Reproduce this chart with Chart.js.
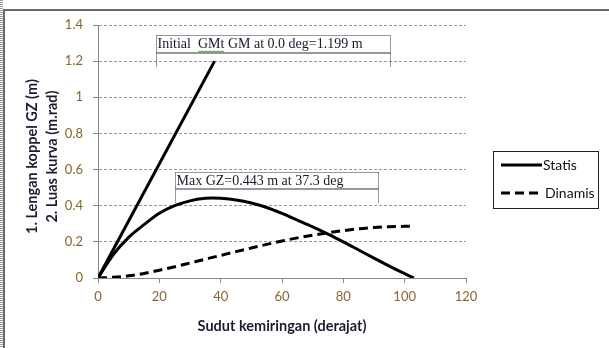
<!DOCTYPE html>
<html>
<head>
<meta charset="utf-8">
<script src="https://cdn.jsdelivr.net/npm/chart.js@4.4.0/dist/chart.umd.min.js"></script>
<style>
  html, body { margin: 0; padding: 0; background: #fff; overflow: hidden; }
  #wrap { position: relative; width: 609px; height: 348px; }
  #frame {
    position: absolute; left: 3px; top: 9px; width: 700px; height: 400px;
    border-top: 2px solid #6a6a6a; border-left: 2px solid #6a6a6a;
  }
  #strip {
    position: absolute; left: 0; top: 0; width: 3px; height: 348px;
    background: repeating-linear-gradient(to bottom, #999 0 1px, #fff 1px 2px);
  }
  canvas { position: absolute; left: 0; top: 0; }
</style>
</head>
<body>
<div id="wrap">
  <div id="strip"></div>
  <div id="frame"></div>
  <canvas id="chart" width="609" height="348"></canvas>
</div>
<script>
// heel angle (deg)
const angles = [0, 5, 10, 15, 20, 25, 30, 35, 37.3, 40, 45, 50, 55, 60, 65, 70, 75, 80, 85, 90, 95, 100, 103];
// righting arm GZ (m) - "Statis"
const gzValues = [0, 0.13, 0.225, 0.295, 0.358, 0.4, 0.427, 0.441, 0.443, 0.441, 0.432, 0.415, 0.39, 0.357, 0.32, 0.283, 0.243, 0.2, 0.155, 0.11, 0.066, 0.024, 0];
// area under curve (m.rad) - "Dinamis"
const dynValues = [0, 0.004, 0.012, 0.025, 0.043, 0.062, 0.083, 0.104, 0.114, 0.125, 0.146, 0.166, 0.186, 0.205, 0.222, 0.237, 0.25, 0.262, 0.272, 0.279, 0.284, 0.286, 0.287];
// initial GM line
const gmAngles = [0, 38];
const gmValues = [0, 1.2];

const seriesLabels = ['Statis', 'Dinamis'];
const yTitleLines = ['1. Lengan koppel GZ (m)', '2. Luas kurva (m.rad)'];
const noteGM = 'Initial  GMt GM at 0.0 deg=1.199 m';
const noteMax = 'Max GZ=0.443 m at 37.3 deg';

const xTicks = [0, 20, 40, 60, 80, 100, 120];
const yTicks = [0, 0.2, 0.4, 0.6, 0.8, 1, 1.2, 1.4];

const toPoints = (xs, ys) => xs.map((x, i) => ({ x: x, y: ys[i] }));

const labelColor = '#86662e';
const titleColor = '#1c1c30';
const uiFont = 'Lato, "Liberation Sans", sans-serif';

// y title, dotted annotation boxes, legend
const extras = {
  id: 'extras',
  afterDatasetsDraw(chart) {
    const ctx = chart.ctx;
    const xs = chart.scales.x, ys = chart.scales.y;
    const px = v => xs.getPixelForValue(v);
    const py = v => ys.getPixelForValue(v);

    // rotated two-line y axis title
    ctx.save();
    ctx.font = 'bold 14.5px ' + uiFont;
    ctx.fillStyle = titleColor;
    ctx.textAlign = 'center';
    ctx.textBaseline = 'middle';
    const cy = (chart.chartArea.top + chart.chartArea.bottom) / 2 + 5;
    [32, 52].forEach((x, i) => {
      ctx.save();
      ctx.translate(x, cy);
      ctx.rotate(-Math.PI / 2);
      ctx.fillText(yTitleLines[i], 0, 0);
      ctx.restore();
    });
    ctx.restore();

    function note(text, x0, x1, yTop, yMid, yBot) {
      const l = Math.round(px(x0)) + 0.5, r = Math.round(px(x1)) + 0.5;
      const t = Math.round(py(yTop)) + 0.5, m = Math.round(py(yMid)) + 0.5, b = Math.round(py(yBot));
      ctx.save();
      ctx.strokeStyle = '#333';
      ctx.lineWidth = 1;
      ctx.setLineDash([1, 1]);
      ctx.beginPath();
      ctx.moveTo(l, t); ctx.lineTo(r, t);
      ctx.moveTo(l, m); ctx.lineTo(r, m);
      ctx.moveTo(l + 1, m + 1); ctx.lineTo(r, m + 1);
      ctx.moveTo(l, t); ctx.lineTo(l, b);
      ctx.moveTo(r, t); ctx.lineTo(r, b);
      ctx.stroke();
      ctx.setLineDash([]);
      ctx.font = '14px "Liberation Serif", "Times New Roman", serif';
      ctx.fillStyle = '#1a1a2a';
      ctx.textBaseline = 'middle';
      ctx.textAlign = 'left';
      ctx.fillText(text, l + 1, (t + m) / 2 + 0.5);
      ctx.restore();
      return { l: l + 1, y: (t + m) / 2 };
    }

    const a = note(noteGM, 19, 95.2, 1.347, 1.25, 1.165);
    // green spell-check squiggle under "GMt"
    ctx.save();
    ctx.font = '14px "Liberation Serif", "Times New Roman", serif';
    const sx = a.l + ctx.measureText('Initial  ').width;
    const sw = ctx.measureText('GMt').width;
    ctx.strokeStyle = '#3a9a3a';
    ctx.lineWidth = 1;
    ctx.beginPath();
    for (let i = 0; i <= sw; i += 2) {
      const yy = a.y + 7 + ((i / 2) % 2 ? 1 : 0);
      if (i === 0) ctx.moveTo(sx + i, yy); else ctx.lineTo(sx + i, yy);
    }
    ctx.stroke();
    ctx.restore();

    note(noteMax, 25.2, 91.4, 0.588, 0.496, 0.413);

    // legend box
    ctx.save();
    ctx.strokeStyle = '#222';
    ctx.lineWidth = 1;
    ctx.strokeRect(493.5, 151.5, 105, 57);
    ctx.lineWidth = 3;
    ctx.strokeStyle = '#000';
    ctx.beginPath(); ctx.moveTo(501, 165); ctx.lineTo(542, 165); ctx.stroke();
    ctx.setLineDash([9, 5]);
    ctx.beginPath(); ctx.moveTo(501, 193); ctx.lineTo(541, 193); ctx.stroke();
    ctx.setLineDash([]);
    ctx.font = '14px ' + uiFont;
    ctx.fillStyle = '#111';
    ctx.textBaseline = 'middle';
    ctx.fillText(seriesLabels[0], 543, 165);
    ctx.fillText(seriesLabels[1], 545, 193);
    ctx.restore();
  }
};

new Chart(document.getElementById('chart'), {
  type: 'line',
  data: {
    datasets: [
      {
        label: seriesLabels[0],
        data: toPoints(angles, gzValues),
        borderColor: '#000',
        borderWidth: 3,
        cubicInterpolationMode: 'monotone',
        pointRadius: 0,
        fill: false
      },
      {
        label: seriesLabels[1],
        data: toPoints(angles, dynValues),
        borderColor: '#000',
        borderWidth: 3,
        borderDash: [9, 5],
        cubicInterpolationMode: 'monotone',
        pointRadius: 0,
        fill: false
      },
      {
        label: 'GM',
        data: toPoints(gmAngles, gmValues),
        borderColor: '#000',
        borderWidth: 3,
        pointRadius: 0,
        fill: false
      }
    ]
  },
  options: {
    responsive: false,
    animation: false,
    layout: { padding: { top: 25, right: 143, left: 0, bottom: 0 }, autoPadding: false },
    plugins: {
      legend: { display: false },
      tooltip: { enabled: false }
    },
    scales: {
      x: {
        type: 'linear',
        min: 0,
        max: 120,
        afterBuildTicks: s => { s.ticks = xTicks.map(v => ({ value: v })); },
        afterFit: s => { s.height = 70; },
        grid: { drawOnChartArea: false, color: '#888', tickLength: 5 },
        border: { color: '#888', width: 1 },
        ticks: { color: labelColor, font: { family: uiFont, size: 13 }, padding: 6 },
        title: {
          display: true,
          text: 'Sudut kemiringan (derajat)',
          color: titleColor,
          font: { family: uiFont, size: 14.5, weight: 'bold' },
          padding: { top: 0, bottom: 13 }
        }
      },
      y: {
        min: 0,
        max: 1.4,
        afterBuildTicks: s => { s.ticks = yTicks.map(v => ({ value: v })); },
        afterFit: s => { s.width = 98; },
        grid: { color: '#9a9a9a', tickLength: 5, tickColor: '#888' },
        border: { color: '#888', width: 1, dash: [3, 2] },
        ticks: {
          color: labelColor,
          font: { family: uiFont, size: 13 },
          padding: 10,
          callback: v => String(Math.round(v * 10) / 10)
        },
        title: { display: false }
      }
    }
  },
  plugins: [extras]
});
</script>
</body>
</html>
